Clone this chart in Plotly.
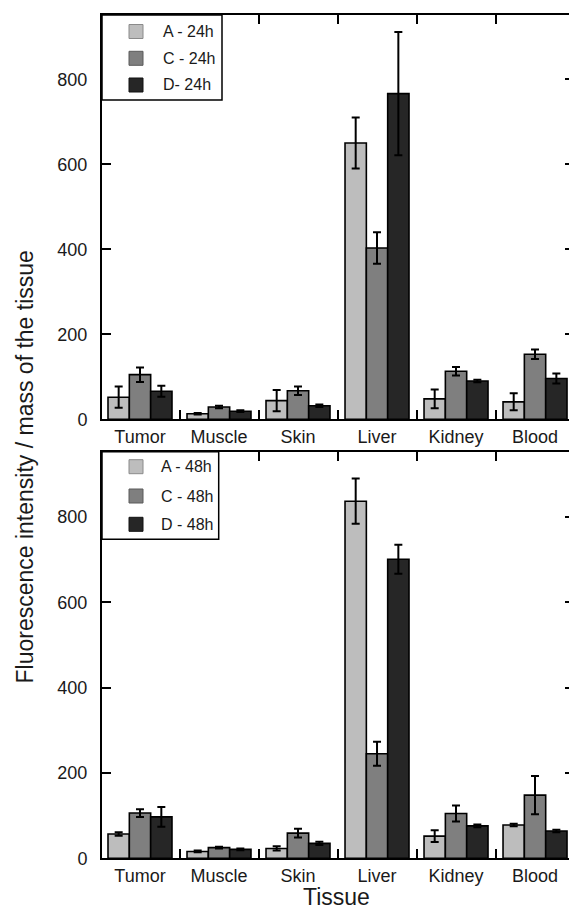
import plotly.graph_objects as go

# Tissue categories and groups
tissues = ["Tumor", "Muscle", "Skin", "Liver", "Kidney", "Blood"]
groups_24h = ["A - 24h", "C - 24h", "D- 24h"]
groups_48h = ["A - 48h", "C - 48h", "D - 48h"]

# 24 h: mean fluorescence / tissue mass and error
a_24 = [52, 13, 44, 650, 48, 41]
a_24_err = [25, 2, 25, 60, 22, 20]
c_24 = [105, 29, 67, 403, 113, 153]
c_24_err = [17, 3, 10, 37, 10, 11]
d_24 = [66, 19, 32, 766, 90, 96]
d_24_err = [13, 2, 3, 145, 3, 12]

# 48 h
a_48 = [57, 16, 23, 837, 52, 78]
a_48_err = [4, 2, 5, 53, 14, 3]
c_48 = [106, 25, 59, 245, 105, 148]
c_48_err = [9, 2, 10, 28, 19, 45]
d_48 = [97, 21, 35, 701, 76, 64]
d_48_err = [23, 2, 4, 34, 3, 3]

y_ticks = [0, 200, 400, 600, 800]

fill_colors = ["#bdbdbd", "#7f7f7f", "#262626"]
swatch_edges = ["#8a8a8a", "#5a5a5a", "#111111"]

W, H = 569, 912


def px(x):
    return x / W


def py(y):
    return 1 - y / H


FONT = "Arial, Liberation Sans, Helvetica, sans-serif"
TXT = "#1a1a1a"

fig = go.Figure()

panels = [
    ("x", "y", [a_24, c_24, d_24], [a_24_err, c_24_err, d_24_err], groups_24h),
    ("x2", "y2", [a_48, c_48, d_48], [a_48_err, c_48_err, d_48_err], groups_48h),
]
for xa, ya, series, errs, names in panels:
    for vals, err, name, col in zip(series, errs, names, fill_colors):
        fig.add_trace(go.Bar(
            x=tissues, y=vals, name=name, xaxis=xa, yaxis=ya,
            marker=dict(color=col, line=dict(color="black", width=1.6)),
            error_y=dict(type="data", array=err, visible=True,
                         color="black", thickness=2, width=4),
            showlegend=False,
        ))

# panel boxes in pixels: (top, bottom)
top_panel = (15, 419.3)
bot_panel = (451.7, 858.3)
x_dom = [px(102), 1.0]
x_range = [-0.481, 5.43]

xaxis_common = dict(
    type="category", categoryorder="array", categoryarray=tissues,
    range=x_range, domain=x_dom,
    showline=True, linecolor="black", linewidth=2, mirror="ticks",
    ticks="inside", tickson="boundaries", ticklen=9, tickwidth=2, tickcolor="black",
    tickfont=dict(family=FONT, size=18, color=TXT),
    showgrid=False, zeroline=False, automargin=False, fixedrange=True,
)
yaxis_common = dict(
    tickvals=y_ticks, ticks="inside", ticklen=9, tickwidth=2, tickcolor="black",
    showline=True, linecolor="black", linewidth=2, mirror=False,
    tickfont=dict(family=FONT, size=18, color=TXT), ticklabelstandoff=9,
    showgrid=False, zeroline=False, automargin=False, fixedrange=True,
)
right_ticks = dict(
    tickvals=y_ticks, ticks="inside", ticklen=4, tickwidth=2, tickcolor="black",
    showticklabels=False, showline=False, showgrid=False, zeroline=False,
    side="right", automargin=False, fixedrange=True,
)

fig.update_layout(
    width=W, height=H,
    margin=dict(l=0, r=0, t=0, b=0),
    paper_bgcolor="white", plot_bgcolor="white",
    barmode="group", bargap=0.19, bargroupgap=0,
    showlegend=False,
    xaxis=dict(xaxis_common, anchor="y"),
    yaxis=dict(yaxis_common, range=[0, 951], anchor="x",
               domain=[py(top_panel[1]), py(top_panel[0])]),
    xaxis2=dict(xaxis_common, anchor="y2"),
    yaxis2=dict(yaxis_common, range=[0, 953], anchor="x2",
                domain=[py(bot_panel[1]), py(bot_panel[0])]),
    yaxis3=dict(right_ticks, range=[0, 951], overlaying="y", anchor="x"),
    yaxis4=dict(right_ticks, range=[0, 953], overlaying="y2", anchor="x2"),
)

# invisible points so the right-hand tick axes get drawn
fig.add_trace(go.Scatter(x=[tissues[0]], y=[0], xaxis="x", yaxis="y3",
                         mode="markers", marker=dict(opacity=0), showlegend=False,
                         hoverinfo="skip"))
fig.add_trace(go.Scatter(x=[tissues[0]], y=[0], xaxis="x2", yaxis="y4",
                         mode="markers", marker=dict(opacity=0), showlegend=False,
                         hoverinfo="skip"))

shapes = []
annotations = []


def add_legend(top, right, bottom, rows, text_x, names):
    shapes.append(dict(type="rect", xref="paper", yref="paper",
                       x0=px(102), x1=px(right), y0=py(bottom), y1=py(top),
                       line=dict(color="black", width=1.5), fillcolor="white",
                       layer="above"))
    for off, name, col, edge in zip(rows, names, fill_colors, swatch_edges):
        cy = top + off
        shapes.append(dict(type="rect", xref="paper", yref="paper",
                           x0=px(129), x1=px(143), y0=py(cy + 7), y1=py(cy - 7),
                           line=dict(color=edge, width=1), fillcolor=col,
                           layer="above"))
        annotations.append(dict(xref="paper", yref="paper", x=px(text_x), y=py(cy),
                                xanchor="left", yanchor="middle", showarrow=False,
                                text=name, font=dict(family=FONT, size=16, color=TXT)))


add_legend(15, 222, 100, [16.5, 43.3, 70], 161, groups_24h)
add_legend(451.7, 218.7, 539.3, [15, 44.3, 72.6], 159, groups_48h)

annotations.append(dict(xref="paper", yref="paper", x=px(24), y=py(467.5),
                        xanchor="center", yanchor="middle", showarrow=False,
                        textangle=-90, text="Fluorescence intensity / mass of the tissue",
                        font=dict(family=FONT, size=23, color=TXT)))
annotations.append(dict(xref="paper", yref="paper", x=px(337), y=py(897),
                        xanchor="center", yanchor="middle", showarrow=False,
                        text="Tissue", font=dict(family=FONT, size=23, color=TXT)))

fig.update_layout(shapes=shapes, annotations=annotations)

fig.write_html("out.html")
